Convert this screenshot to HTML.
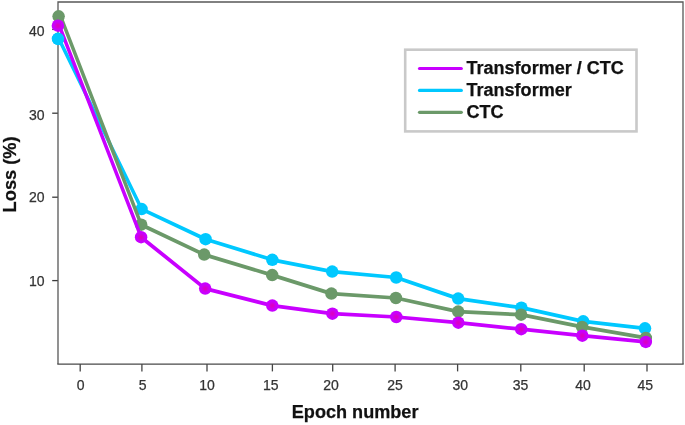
<!DOCTYPE html>
<html><head><meta charset="utf-8"><title>Loss vs Epoch</title>
<style>
html,body{margin:0;padding:0;background:#fff;}
svg{display:block;font-family:"Liberation Sans",Arial,sans-serif;}
.t{font-size:14px;fill:#333;stroke:#333;stroke-width:0.25px;}
.b{font-size:18.25px;font-weight:bold;fill:#111;stroke:#111;stroke-width:0.25px;}
</style></head><body>
<svg width="685" height="425" viewBox="0 0 685 425">
<defs><filter id="b" x="-50%" y="-50%" width="200%" height="200%"><feGaussianBlur stdDeviation="0.9"/></filter></defs>
<rect x="0" y="0" width="685" height="425" fill="#fff"/>
<line x1="80.2" y1="364" x2="80.2" y2="371.4" stroke="#444" stroke-width="1.3"/><line x1="141.9" y1="364" x2="141.9" y2="371.4" stroke="#444" stroke-width="1.3"/><line x1="207.0" y1="364" x2="207.0" y2="371.4" stroke="#444" stroke-width="1.3"/><line x1="272.4" y1="364" x2="272.4" y2="371.4" stroke="#444" stroke-width="1.3"/><line x1="332.7" y1="364" x2="332.7" y2="371.4" stroke="#444" stroke-width="1.3"/><line x1="395.1" y1="364" x2="395.1" y2="371.4" stroke="#444" stroke-width="1.3"/><line x1="457.6" y1="364" x2="457.6" y2="371.4" stroke="#444" stroke-width="1.3"/><line x1="520.8" y1="364" x2="520.8" y2="371.4" stroke="#444" stroke-width="1.3"/><line x1="584.2" y1="364" x2="584.2" y2="371.4" stroke="#444" stroke-width="1.3"/><line x1="647.0" y1="364" x2="647.0" y2="371.4" stroke="#444" stroke-width="1.3"/>
<line x1="52.2" y1="29.4" x2="58" y2="29.4" stroke="#3a3a3a" stroke-width="1.3"/><line x1="52.2" y1="113.2" x2="58" y2="113.2" stroke="#3a3a3a" stroke-width="1.3"/><line x1="52.2" y1="197.2" x2="58" y2="197.2" stroke="#3a3a3a" stroke-width="1.3"/><line x1="52.2" y1="280.6" x2="58" y2="280.6" stroke="#3a3a3a" stroke-width="1.3"/>
<path d="M58,364 L58,2 L683,2 L683,364" fill="none" stroke="#585858" stroke-width="1.3"/>
<line x1="57.3" y1="364.1" x2="683.7" y2="364.1" stroke="#484848" stroke-width="1.45"/>
<text class="t" x="80.6" y="389.75" text-anchor="middle">0</text><text class="t" x="142.6" y="389.75" text-anchor="middle">5</text><text class="t" x="207.0" y="389.75" text-anchor="middle">10</text><text class="t" x="270.7" y="389.75" text-anchor="middle">15</text><text class="t" x="331.1" y="389.75" text-anchor="middle">20</text><text class="t" x="395.1" y="389.75" text-anchor="middle">25</text><text class="t" x="460.2" y="389.75" text-anchor="middle">30</text><text class="t" x="520.6" y="389.75" text-anchor="middle">35</text><text class="t" x="583.1" y="389.75" text-anchor="middle">40</text><text class="t" x="645.2" y="389.75" text-anchor="middle">45</text>
<text class="t" x="44.5" y="36.2" text-anchor="end">40</text><text class="t" x="44.5" y="120.2" text-anchor="end">30</text><text class="t" x="44.5" y="202.1" text-anchor="end">20</text><text class="t" x="44.5" y="285.9" text-anchor="end">10</text>
<line x1="59.0" y1="38.9" x2="141.6" y2="209.1" stroke="#00c8ff" stroke-width="3.5" stroke-linecap="round"/>
<polyline fill="none" stroke="#00c8ff" stroke-width="3.75" stroke-linejoin="round" stroke-linecap="round" points="141.6,209.1 205.6,239.2 272.3,259.8 332.2,271.6 396.2,277.5 458.2,298.6 521.4,307.7 583.2,321.3 645.0,328.3"/>
<circle cx="58.2" cy="38.9" r="6.25" fill="#00c8ff"/><circle cx="141.6" cy="209.1" r="6.25" fill="#00c8ff"/><circle cx="205.6" cy="239.2" r="6.25" fill="#00c8ff"/><circle cx="272.3" cy="259.8" r="6.25" fill="#00c8ff"/><circle cx="332.2" cy="271.6" r="6.25" fill="#00c8ff"/><circle cx="396.2" cy="277.5" r="6.25" fill="#00c8ff"/><circle cx="458.2" cy="298.6" r="6.25" fill="#00c8ff"/><circle cx="521.4" cy="307.7" r="6.25" fill="#00c8ff"/><circle cx="583.2" cy="321.3" r="6.25" fill="#00c8ff"/><circle cx="645.0" cy="328.3" r="6.25" fill="#00c8ff"/>
<line x1="60.6" y1="16.3" x2="141.2" y2="224.7" stroke="#6b9969" stroke-width="3.5" stroke-linecap="round"/>
<polyline fill="none" stroke="#6b9969" stroke-width="3.75" stroke-linejoin="round" stroke-linecap="round" points="141.2,224.7 204.2,254.6 272.2,275.1 331.4,293.6 395.9,298.0 458.2,311.6 521.1,314.7 582.1,326.9 645.8,337.9"/>
<circle cx="58.6" cy="16.3" r="6.25" fill="#6b9969"/><circle cx="141.2" cy="224.7" r="6.25" fill="#6b9969"/><circle cx="204.2" cy="254.6" r="6.25" fill="#6b9969"/><circle cx="272.2" cy="275.1" r="6.25" fill="#6b9969"/><circle cx="331.4" cy="293.6" r="6.25" fill="#6b9969"/><circle cx="395.9" cy="298.0" r="6.25" fill="#6b9969"/><circle cx="458.2" cy="311.6" r="6.25" fill="#6b9969"/><circle cx="521.1" cy="314.7" r="6.25" fill="#6b9969"/><circle cx="582.1" cy="326.9" r="6.25" fill="#6b9969"/><circle cx="645.8" cy="337.9" r="6.25" fill="#6b9969"/>
<line x1="59.3" y1="25.7" x2="141.1" y2="237.2" stroke="#c800ff" stroke-width="3.5" stroke-linecap="round"/>
<polyline fill="none" stroke="#c800ff" stroke-width="3.75" stroke-linejoin="round" stroke-linecap="round" points="141.1,237.2 205.2,288.6 272.3,305.6 332.4,313.7 396.3,317.0 458.3,322.7 521.2,329.2 582.3,335.7 645.8,341.9"/>
<circle cx="57.9" cy="25.7" r="6.25" fill="#c800ff"/><circle cx="57.9" cy="25.7" r="2.7" fill="#dc00c0" filter="url(#b)"/><circle cx="141.1" cy="237.2" r="6.25" fill="#c800ff"/><circle cx="141.1" cy="237.2" r="2.7" fill="#dc00c0" filter="url(#b)"/><circle cx="205.2" cy="288.6" r="6.25" fill="#c800ff"/><circle cx="205.2" cy="288.6" r="2.7" fill="#dc00c0" filter="url(#b)"/><circle cx="272.3" cy="305.6" r="6.25" fill="#c800ff"/><circle cx="272.3" cy="305.6" r="2.7" fill="#dc00c0" filter="url(#b)"/><circle cx="332.4" cy="313.7" r="6.25" fill="#c800ff"/><circle cx="332.4" cy="313.7" r="2.7" fill="#dc00c0" filter="url(#b)"/><circle cx="396.3" cy="317.0" r="6.25" fill="#c800ff"/><circle cx="396.3" cy="317.0" r="2.7" fill="#dc00c0" filter="url(#b)"/><circle cx="458.3" cy="322.7" r="6.25" fill="#c800ff"/><circle cx="458.3" cy="322.7" r="2.7" fill="#dc00c0" filter="url(#b)"/><circle cx="521.2" cy="329.2" r="6.25" fill="#c800ff"/><circle cx="521.2" cy="329.2" r="2.7" fill="#dc00c0" filter="url(#b)"/><circle cx="582.3" cy="335.7" r="6.25" fill="#c800ff"/><circle cx="582.3" cy="335.7" r="2.7" fill="#dc00c0" filter="url(#b)"/><circle cx="645.8" cy="341.9" r="6.25" fill="#c800ff"/><circle cx="645.8" cy="341.9" r="2.7" fill="#dc00c0" filter="url(#b)"/>
<circle cx="58.0" cy="38.8" r="6.25" fill="#00c8ff"/>
<rect x="405.2" y="49.7" width="231.3" height="81.7" fill="#fff" stroke="#c9c9c9" stroke-width="2.6"/>
<line x1="419.5" y1="68.5" x2="461.3" y2="68.5" stroke="#c800ff" stroke-width="3.2" stroke-linecap="round"/><text class="b" style="font-size:18.05px" x="466.5" y="74.1">Transformer / CTC</text>
<line x1="419.5" y1="90.4" x2="461.3" y2="90.4" stroke="#00c8ff" stroke-width="3.2" stroke-linecap="round"/><text class="b" style="font-size:18.05px" x="466.5" y="95.9">Transformer</text>
<line x1="419.5" y1="112.3" x2="461.3" y2="112.3" stroke="#6b9969" stroke-width="3.2" stroke-linecap="round"/><text class="b" style="font-size:18.05px" x="466.5" y="117.7">CTC</text>
<text class="b" style="font-size:18.1px" x="291.8" y="418.2">Epoch number</text>
<text class="b" transform="translate(15.7,212.4) rotate(-90)">Loss (%)</text>
</svg></body></html>
